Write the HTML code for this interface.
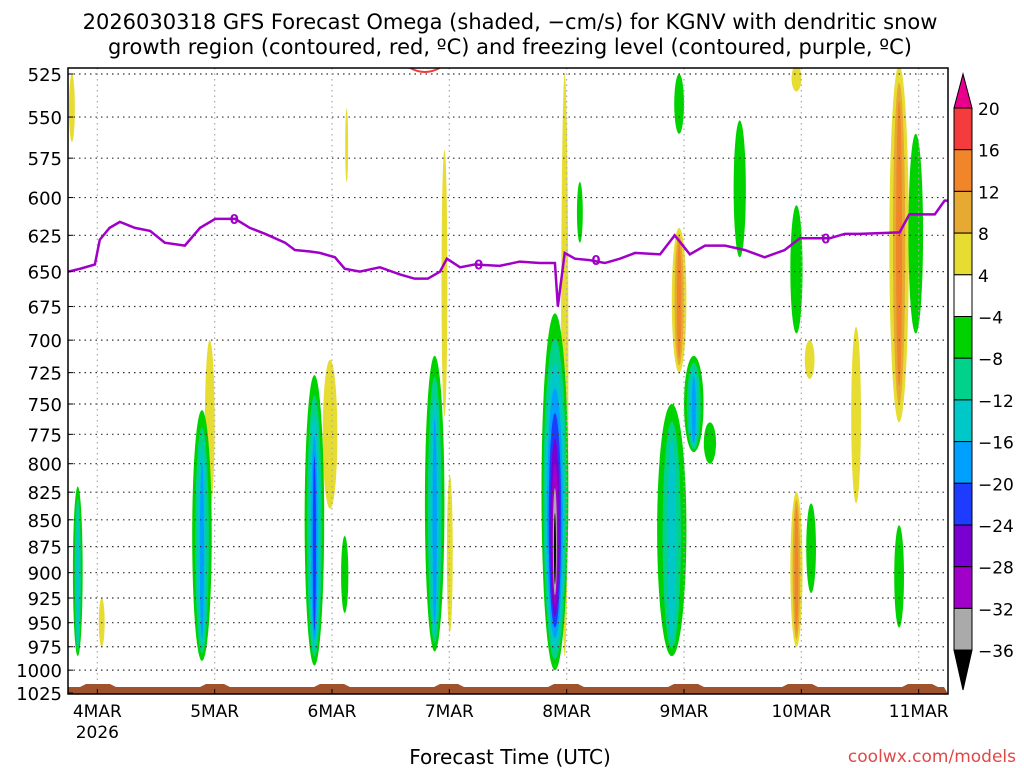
<!DOCTYPE html>
<html><head><meta charset="utf-8"><style>
body{margin:0;background:#fff;}
svg{display:block;font-family:"DejaVu Sans","Liberation Sans",sans-serif;}
</style></head><body>
<svg id="c" width="1024" height="768" xmlns="http://www.w3.org/2000/svg">
<text x="510" y="29" font-size="21" text-anchor="middle">2026030318 GFS Forecast Omega (shaded, −cm/s) for KGNV with dendritic snow</text>
<text x="510" y="54" font-size="21" text-anchor="middle">growth region (contoured, red, ºC) and freezing level (contoured, purple, ºC)</text>
<text x="510" y="764" font-size="20" text-anchor="middle">Forecast Time (UTC)</text>
<text x="1016" y="762" font-size="17" fill="#e04848" text-anchor="end">coolwx.com/models</text>
<g id="plot"></g>
</svg>
<script>
const pTicks=[525,550,575,600,625,650,675,700,725,750,775,800,825,850,875,900,925,950,975,1000,1025];
const dayLabels=["4MAR","5MAR","6MAR","7MAR","8MAR","9MAR","10MAR","11MAR"];
const dayHours=[6,30,54,78,102,126,150,174];
const levelColors=["#f53c3c","#f0852a","#e6a932","#e6dc32","#ffffff","#00d200","#00d28c","#00c8c8","#00a0ff","#1e3cff","#7a00d2","#a000c8","#aaaaaa"];
const levelLabels=["20","16","12","8","4","−4","−8","−12","−16","−20","−24","−28","−32","−36"];
// upward motion blobs: hour, pTop, pBottom, width(h), deepest level index (5=green ... 13=black)
const negHour=[2,27.4,50.4,75,99.6,123.5,128,125,137.4,149,152,170,173.4,131.3,104.7,56.6];
const negTop=[820,755,727,712,680,750,712,525,552,605,835,855,560,765,590,865];
const negBot=[985,990,995,980,1000,985,790,560,640,695,920,955,695,800,630,940];
const negWidth=[2,4,4,4,5.5,6,4,2,2.5,2.5,2,2,3,2.5,1.2,1.5];
const negCore=[7,8,9,8,13,7,8,5,5,5,5,5,5,5,5,5];
// sinking motion blobs: hour, pTop, pBottom, width, core level (3=yellow,1=orange)
const posHour=[0.8,6.9,29,53.6,77,78.1,101.6,125,149,151.7,161.2,170,149,57];
const posTop=[525,925,700,715,570,810,525,620,825,700,690,520,520,545];
const posBot=[565,975,840,840,760,960,985,725,975,730,835,765,535,590];
const posWidth=[1.2,1.2,2,3,1.2,1.2,1.5,3,2.5,2,2,4,2,0.6];
const posCore=[3,3,3,3,3,3,3,1,1,3,3,1,3,3];
// freezing level (0C) path
const fzHour=[0,2.5,5.5,6.5,8.5,10.6,13.7,16.8,19.8,23.9,27.0,30.1,34.2,37.2,40.3,44.4,46.4,49.5,51.5,54.6,56.6,59.7,63.8,67.9,70.9,73.6,76.1,77.5,80.2,83.2,88.3,92.4,96.5,99.6,100.2,101.6,103.7,106.7,109.8,112.9,116.0,121.1,124.1,127.2,130.3,134.4,138.4,142.5,146.6,149.7,155.8,158.9,161.9,170.1,172.1,177.3,179.3,180];
const fzP=[650,648,645,628,620,616,620,622,630,632,620,614,614,620,624,630,635,636,637,640,648,650,647,652,655,655,650,641,647,645,646,643,644,644,675,637,641,642,644,641,637,638,625,638,632,632,635,640,635,627,627,624,624,623,611,611,602,602];

const NS="http://www.w3.org/2000/svg";
const L=68,R=948,T=68,B=694;
const X=h=>L+h*(R-L)/180;
const lnT=Math.log(525),lnB=Math.log(1025);
const Y=p=>74+(Math.log(p)-lnT)/(lnB-lnT)*619;
const g=document.getElementById('plot');
function mk(tag,at,parent){const e=document.createElementNS(NS,tag);for(const k in at)e.setAttribute(k,at[k]);(parent||g).appendChild(e);return e;}
const defs=mk('defs',{});const cp=mk('clipPath',{id:'clip'},defs);mk('rect',{x:L,y:T,width:R-L,height:B-T},cp);
const pl=mk('g',{'clip-path':'url(#clip)'});


function blob(h,pt,pb,w,core,neg,i){
  const grp=mk('g',{},pl);
  
  
  const start=neg?5:3;const steps=neg?(core-start+1):(start-core+1);
  const yt=Y(pt),yb=Y(pb),cx=X(h),rx=w*(R-L)/180/2;
  for(let s=0;s<steps;s++){
    const lev=neg?start+s:start-s;
    const fy=1-0.1*s;
    const fx=Math.pow(1-s/(steps+0.5),1.4);
    const cy=(yt+yb)/2+(neg?(yb-yt)*0.02*s:0);
    const col=lev>=13?'#000':levelColors[lev];
    mk('ellipse',{cx:cx,cy:cy,rx:Math.max(rx*fx,0.9),ry:(yb-yt)/2*fy,fill:col},grp);
  }
}
posHour.forEach((h,i)=>blob(h,posTop[i],posBot[i],posWidth[i],posCore[i],false,i));
negHour.forEach((h,i)=>blob(h,negTop[i],negBot[i],negWidth[i],negCore[i],true,i));
pTicks.forEach(p=>{const l=mk('line',{x1:L,x2:R,y1:Y(p),y2:Y(p),stroke:'#333','stroke-width':1.2,'stroke-dasharray':'1.5,4'},pl);
 });
dayHours.forEach(h=>{mk('line',{x1:X(h),x2:X(h),y1:T,y2:B,stroke:'#aaa','stroke-width':1.2,'stroke-dasharray':'1.5,4'},pl);});
let gd='M'+L+','+B;for(let x=L;x<=R;x+=6){const hh=(x-L)/(R-L)*180;const bump=((hh%24)>3&&(hh%24)<9)?3:0;gd+=' L'+x+','+(687-bump);}gd+=' L'+R+','+B+'Z';
const gr=mk('path',{d:gd,fill:'#a0522d'},pl);
mk('path',{d:`M${X(70)},${T} Q${X(73)},${T+8} ${X(76)},${T}`,fill:'none',stroke:'#f03c3c','stroke-width':2},pl);
const fz=mk('polyline',{points:fzHour.map((h,i)=>X(h)+','+Y(fzP[i])).join(' '),fill:'none',stroke:'#a000c8','stroke-width':2.5},pl);

[34,84,108,155].forEach(h=>{let j=0;while(fzHour[j+1]<h)j++;const p=fzP[j];const t=mk('text',{x:X(h),y:Y(p)+5,'font-size':13,fill:'#a000c8','text-anchor':'middle','font-weight':'bold'},pl);t.textContent='0';});
mk('rect',{x:L,y:T,width:R-L,height:B-T,fill:'none',stroke:'#000','stroke-width':1.5});
pTicks.forEach(p=>{const t=mk('text',{x:62,y:Y(p)+7,'font-size':18,'text-anchor':'end'});t.textContent=p;
 
 mk('line',{x1:L,x2:L+5,y1:Y(p),y2:Y(p),stroke:'#000'});});
dayHours.forEach((h,i)=>{const t=mk('text',{x:X(h),y:717,'font-size':17,'text-anchor':'middle'});t.textContent=dayLabels[i];
 
 mk('line',{x1:X(h),x2:X(h),y1:B,y2:B-5,stroke:'#000'});});
const yr=mk('text',{x:X(6),y:738,'font-size':17,'text-anchor':'middle'});yr.textContent='2026';

const cb=mk('g',{});
const bh=41.7,by=108;
mk('polygon',{points:`954,${by} 972,${by} 963,74`,fill:'#e8008c',stroke:'#000'},cb);
levelColors.forEach((c,i)=>mk('rect',{x:954,y:by+i*bh,width:18,height:bh,fill:c,stroke:'#000','stroke-width':1},cb));
const ey=by+13*bh;
mk('polygon',{points:`954,${ey} 972,${ey} 963,690`,fill:'#000',stroke:'#000'},cb);
levelLabels.forEach((s,i)=>{const t=mk('text',{x:978,y:by+i*bh+7,'font-size':17},cb);t.textContent=s;});
</script>
</body></html>
